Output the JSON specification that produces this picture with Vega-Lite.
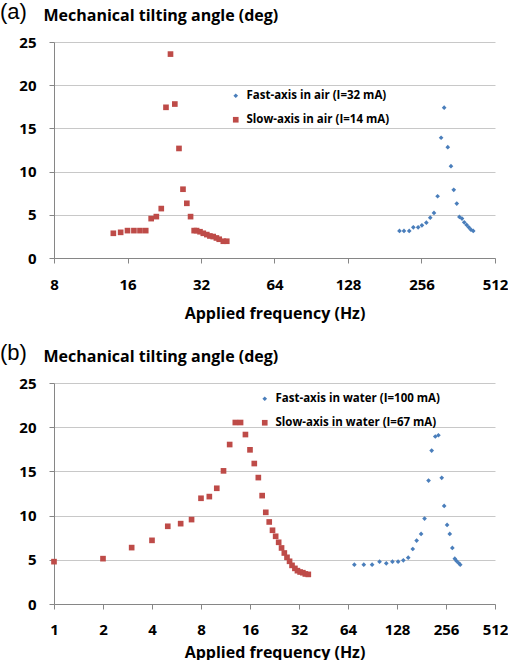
{
  "$schema": "https://vega.github.io/schema/vega-lite/v6.json",
  "padding": {"left": 0, "top": 1, "right": 0, "bottom": 0},
  "background": "white",
  "config": {
    "font": "Open Sans",
    "view": {"stroke": null},
    "axis": {"labelFont": "Open Sans", "labelFontWeight": "bold", "labelFontSize": 15, "labelColor": "black", "labelFlush": false, "labelOverlap": false, "domainColor": "#868686", "tickColor": "#868686", "tickSize": 5, "gridColor": "#C8C8C8", "titleFont": "Open Sans", "titleColor": "black"},
    "legend": {"orient": "none", "title": null, "labelFont": "Open Sans", "labelFontWeight": "bold", "labelFontSize": 11.5, "labelColor": "black", "labelLimit": 400, "symbolSize": 28, "rowPadding": 11, "labelOffset": 5, "padding": 0},
    "title": {"font": "Liberation Sans", "fontSize": 22, "fontWeight": "normal", "color": "black", "anchor": "start", "frame": "group"}
  },
  "datasets": {
    "air": [
      {"f": 208, "angle": 3.13, "series": "Fast-axis in air (I=32 mA)"},
      {"f": 217, "angle": 3.13, "series": "Fast-axis in air (I=32 mA)"},
      {"f": 228, "angle": 3.13, "series": "Fast-axis in air (I=32 mA)"},
      {"f": 237, "angle": 3.55, "series": "Fast-axis in air (I=32 mA)"},
      {"f": 248, "angle": 3.55, "series": "Fast-axis in air (I=32 mA)"},
      {"f": 257, "angle": 3.78, "series": "Fast-axis in air (I=32 mA)"},
      {"f": 268, "angle": 4.09, "series": "Fast-axis in air (I=32 mA)"},
      {"f": 278, "angle": 4.67, "series": "Fast-axis in air (I=32 mA)"},
      {"f": 288, "angle": 5.22, "series": "Fast-axis in air (I=32 mA)"},
      {"f": 298, "angle": 7.15, "series": "Fast-axis in air (I=32 mA)"},
      {"f": 308, "angle": 13.92, "series": "Fast-axis in air (I=32 mA)"},
      {"f": 317, "angle": 17.4, "series": "Fast-axis in air (I=32 mA)"},
      {"f": 328, "angle": 12.83, "series": "Fast-axis in air (I=32 mA)"},
      {"f": 338, "angle": 10.63, "series": "Fast-axis in air (I=32 mA)"},
      {"f": 347, "angle": 7.89, "series": "Fast-axis in air (I=32 mA)"},
      {"f": 357, "angle": 6.3, "series": "Fast-axis in air (I=32 mA)"},
      {"f": 366, "angle": 4.75, "series": "Fast-axis in air (I=32 mA)"},
      {"f": 375, "angle": 4.56, "series": "Fast-axis in air (I=32 mA)"},
      {"f": 383, "angle": 4.13, "series": "Fast-axis in air (I=32 mA)"},
      {"f": 392, "angle": 3.83, "series": "Fast-axis in air (I=32 mA)"},
      {"f": 400, "angle": 3.55, "series": "Fast-axis in air (I=32 mA)"},
      {"f": 408, "angle": 3.28, "series": "Fast-axis in air (I=32 mA)"},
      {"f": 417, "angle": 3.13, "series": "Fast-axis in air (I=32 mA)"},
      {"f": 14, "angle": 2.86, "series": "Slow-axis in air (I=14 mA)"},
      {"f": 15, "angle": 2.97, "series": "Slow-axis in air (I=14 mA)"},
      {"f": 16, "angle": 3.17, "series": "Slow-axis in air (I=14 mA)"},
      {"f": 17, "angle": 3.17, "series": "Slow-axis in air (I=14 mA)"},
      {"f": 18, "angle": 3.17, "series": "Slow-axis in air (I=14 mA)"},
      {"f": 19, "angle": 3.17, "series": "Slow-axis in air (I=14 mA)"},
      {"f": 20, "angle": 4.56, "series": "Slow-axis in air (I=14 mA)"},
      {"f": 21, "angle": 4.79, "series": "Slow-axis in air (I=14 mA)"},
      {"f": 22, "angle": 5.72, "series": "Slow-axis in air (I=14 mA)"},
      {"f": 23, "angle": 17.44, "series": "Slow-axis in air (I=14 mA)"},
      {"f": 24, "angle": 23.6, "series": "Slow-axis in air (I=14 mA)"},
      {"f": 25, "angle": 17.82, "series": "Slow-axis in air (I=14 mA)"},
      {"f": 26, "angle": 12.68, "series": "Slow-axis in air (I=14 mA)"},
      {"f": 27, "angle": 7.96, "series": "Slow-axis in air (I=14 mA)"},
      {"f": 28, "angle": 6.33, "series": "Slow-axis in air (I=14 mA)"},
      {"f": 29, "angle": 4.79, "series": "Slow-axis in air (I=14 mA)"},
      {"f": 30, "angle": 3.17, "series": "Slow-axis in air (I=14 mA)"},
      {"f": 30.7, "angle": 3.17, "series": "Slow-axis in air (I=14 mA)"},
      {"f": 31.7, "angle": 3.04, "series": "Slow-axis in air (I=14 mA)"},
      {"f": 32.7, "angle": 2.86, "series": "Slow-axis in air (I=14 mA)"},
      {"f": 33.8, "angle": 2.71, "series": "Slow-axis in air (I=14 mA)"},
      {"f": 34.8, "angle": 2.55, "series": "Slow-axis in air (I=14 mA)"},
      {"f": 35.9, "angle": 2.48, "series": "Slow-axis in air (I=14 mA)"},
      {"f": 37, "angle": 2.32, "series": "Slow-axis in air (I=14 mA)"},
      {"f": 38, "angle": 2.17, "series": "Slow-axis in air (I=14 mA)"},
      {"f": 39.5, "angle": 1.94, "series": "Slow-axis in air (I=14 mA)"},
      {"f": 40.8, "angle": 1.94, "series": "Slow-axis in air (I=14 mA)"}
    ],
    "water": [
      {"f": 70, "angle": 4.45, "series": "Fast-axis in water (I=100 mA)"},
      {"f": 80, "angle": 4.45, "series": "Fast-axis in water (I=100 mA)"},
      {"f": 90, "angle": 4.45, "series": "Fast-axis in water (I=100 mA)"},
      {"f": 100, "angle": 4.79, "series": "Fast-axis in water (I=100 mA)"},
      {"f": 110, "angle": 4.6, "series": "Fast-axis in water (I=100 mA)"},
      {"f": 120, "angle": 4.79, "series": "Fast-axis in water (I=100 mA)"},
      {"f": 130, "angle": 4.79, "series": "Fast-axis in water (I=100 mA)"},
      {"f": 140, "angle": 4.94, "series": "Fast-axis in water (I=100 mA)"},
      {"f": 150, "angle": 5.24, "series": "Fast-axis in water (I=100 mA)"},
      {"f": 160, "angle": 6.22, "series": "Fast-axis in water (I=100 mA)"},
      {"f": 169, "angle": 7.17, "series": "Fast-axis in water (I=100 mA)"},
      {"f": 180, "angle": 7.93, "series": "Fast-axis in water (I=100 mA)"},
      {"f": 189, "angle": 9.66, "series": "Fast-axis in water (I=100 mA)"},
      {"f": 200, "angle": 13.96, "series": "Fast-axis in water (I=100 mA)"},
      {"f": 209, "angle": 17.36, "series": "Fast-axis in water (I=100 mA)"},
      {"f": 220, "angle": 18.95, "series": "Fast-axis in water (I=100 mA)"},
      {"f": 230, "angle": 19.09, "series": "Fast-axis in water (I=100 mA)"},
      {"f": 241, "angle": 14.27, "series": "Fast-axis in water (I=100 mA)"},
      {"f": 249.5, "angle": 11.1, "series": "Fast-axis in water (I=100 mA)"},
      {"f": 260, "angle": 8.95, "series": "Fast-axis in water (I=100 mA)"},
      {"f": 270, "angle": 7.93, "series": "Fast-axis in water (I=100 mA)"},
      {"f": 280, "angle": 6.34, "series": "Fast-axis in water (I=100 mA)"},
      {"f": 290, "angle": 5.13, "series": "Fast-axis in water (I=100 mA)"},
      {"f": 297, "angle": 4.87, "series": "Fast-axis in water (I=100 mA)"},
      {"f": 306, "angle": 4.64, "series": "Fast-axis in water (I=100 mA)"},
      {"f": 313, "angle": 4.45, "series": "Fast-axis in water (I=100 mA)"},
      {"f": 1, "angle": 4.79, "series": "Slow-axis in water (I=67 mA)"},
      {"f": 2, "angle": 5.13, "series": "Slow-axis in water (I=67 mA)"},
      {"f": 3, "angle": 6.38, "series": "Slow-axis in water (I=67 mA)"},
      {"f": 4, "angle": 7.2, "series": "Slow-axis in water (I=67 mA)"},
      {"f": 5, "angle": 8.79, "series": "Slow-axis in water (I=67 mA)"},
      {"f": 6, "angle": 9.09, "series": "Slow-axis in water (I=67 mA)"},
      {"f": 7, "angle": 9.55, "series": "Slow-axis in water (I=67 mA)"},
      {"f": 8, "angle": 11.96, "series": "Slow-axis in water (I=67 mA)"},
      {"f": 9, "angle": 12.15, "series": "Slow-axis in water (I=67 mA)"},
      {"f": 10, "angle": 13.09, "series": "Slow-axis in water (I=67 mA)"},
      {"f": 11, "angle": 15.06, "series": "Slow-axis in water (I=67 mA)"},
      {"f": 12, "angle": 18.04, "series": "Slow-axis in water (I=67 mA)"},
      {"f": 13, "angle": 20.53, "series": "Slow-axis in water (I=67 mA)"},
      {"f": 14, "angle": 20.53, "series": "Slow-axis in water (I=67 mA)"},
      {"f": 15, "angle": 19.17, "series": "Slow-axis in water (I=67 mA)"},
      {"f": 16, "angle": 17.44, "series": "Slow-axis in water (I=67 mA)"},
      {"f": 17, "angle": 15.89, "series": "Slow-axis in water (I=67 mA)"},
      {"f": 18, "angle": 14.3, "series": "Slow-axis in water (I=67 mA)"},
      {"f": 19, "angle": 12.26, "series": "Slow-axis in water (I=67 mA)"},
      {"f": 20, "angle": 10.37, "series": "Slow-axis in water (I=67 mA)"},
      {"f": 21, "angle": 9.28, "series": "Slow-axis in water (I=67 mA)"},
      {"f": 22, "angle": 8.34, "series": "Slow-axis in water (I=67 mA)"},
      {"f": 23, "angle": 7.66, "series": "Slow-axis in water (I=67 mA)"},
      {"f": 24, "angle": 6.98, "series": "Slow-axis in water (I=67 mA)"},
      {"f": 25, "angle": 6.34, "series": "Slow-axis in water (I=67 mA)"},
      {"f": 26, "angle": 5.77, "series": "Slow-axis in water (I=67 mA)"},
      {"f": 27, "angle": 5.28, "series": "Slow-axis in water (I=67 mA)"},
      {"f": 28, "angle": 4.83, "series": "Slow-axis in water (I=67 mA)"},
      {"f": 29, "angle": 4.37, "series": "Slow-axis in water (I=67 mA)"},
      {"f": 30.2, "angle": 4.03, "series": "Slow-axis in water (I=67 mA)"},
      {"f": 31.3, "angle": 3.77, "series": "Slow-axis in water (I=67 mA)"},
      {"f": 32.5, "angle": 3.62, "series": "Slow-axis in water (I=67 mA)"},
      {"f": 33.8, "angle": 3.54, "series": "Slow-axis in water (I=67 mA)"},
      {"f": 35, "angle": 3.4, "series": "Slow-axis in water (I=67 mA)"},
      {"f": 36.5, "angle": 3.35, "series": "Slow-axis in water (I=67 mA)"}
    ]
  },
  "vconcat": [
    {
      "title": {"text": "(a)", "dx": -54, "offset": -17},
      "width": 441,
      "height": 216,
      "data": {"name": "air"},
      "mark": {"type": "point", "filled": true, "opacity": 1},
      "encoding": {
        "x": {"field": "f", "type": "quantitative", "scale": {"type": "log", "base": 2, "domain": [8, 512], "nice": false},
              "axis": {"values": [8, 16, 32, 64, 128, 256, 512], "grid": false, "title": "Applied frequency (Hz)", "titleFontSize": 16, "titleFontWeight": "bold", "labelPadding": 14, "titlePadding": 13}},
        "y": {"field": "angle", "type": "quantitative", "scale": {"domain": [0, 25], "nice": false},
              "axis": {"values": [0, 5, 10, 15, 20, 25], "grid": true, "labelPadding": 13, "title": "Mechanical tilting angle (deg)", "titleAngle": 0, "titleAlign": "left", "titleBaseline": "alphabetic", "titleX": -11, "titleY": -22, "titleFontSize": 16, "titleFontWeight": "bold"}},
        "color": {"field": "series", "type": "nominal", "scale": {"domain": ["Fast-axis in air (I=32 mA)", "Slow-axis in air (I=14 mA)"], "range": ["#4A7EBB", "#BE4B48"]},
                  "legend": {"legendX": 176, "legendY": 48}},
        "shape": {"field": "series", "type": "nominal", "scale": {"domain": ["Fast-axis in air (I=32 mA)", "Slow-axis in air (I=14 mA)"], "range": ["diamond", "square"]}},
        "size": {"field": "series", "type": "nominal", "scale": {"domain": ["Fast-axis in air (I=32 mA)", "Slow-axis in air (I=14 mA)"], "range": [22, 32]}, "legend": null}
      }
    },
    {
      "title": {"text": "(b)", "dx": -54, "offset": -17},
      "width": 441,
      "height": 221,
      "data": {"name": "water"},
      "mark": {"type": "point", "filled": true, "opacity": 1},
      "encoding": {
        "x": {"field": "f", "type": "quantitative", "scale": {"type": "log", "base": 2, "domain": [1, 512], "nice": false},
              "axis": {"values": [1, 2, 4, 8, 16, 32, 64, 128, 256, 512], "grid": false, "title": "Applied frequency (Hz)", "titleFontSize": 16, "titleFontWeight": "bold", "labelPadding": 13, "titlePadding": 7}},
        "y": {"field": "angle", "type": "quantitative", "scale": {"domain": [0, 25], "nice": false},
              "axis": {"values": [0, 5, 10, 15, 20, 25], "grid": true, "labelPadding": 13, "title": "Mechanical tilting angle (deg)", "titleAngle": 0, "titleAlign": "left", "titleBaseline": "alphabetic", "titleX": -11, "titleY": -22, "titleFontSize": 16, "titleFontWeight": "bold"}},
        "color": {"field": "series", "type": "nominal", "scale": {"domain": ["Fast-axis in water (I=100 mA)", "Slow-axis in water (I=67 mA)"], "range": ["#4A7EBB", "#BE4B48"]},
                  "legend": {"legendX": 205, "legendY": 10}},
        "shape": {"field": "series", "type": "nominal", "scale": {"domain": ["Fast-axis in water (I=100 mA)", "Slow-axis in water (I=67 mA)"], "range": ["diamond", "square"]}},
        "size": {"field": "series", "type": "nominal", "scale": {"domain": ["Fast-axis in water (I=100 mA)", "Slow-axis in water (I=67 mA)"], "range": [22, 32]}, "legend": null}
      }
    }
  ],
  "spacing": 21,
  "resolve": {"scale": {"x": "independent", "color": "independent", "shape": "independent", "size": "independent"}, "legend": {"color": "independent", "shape": "independent"}}
}
